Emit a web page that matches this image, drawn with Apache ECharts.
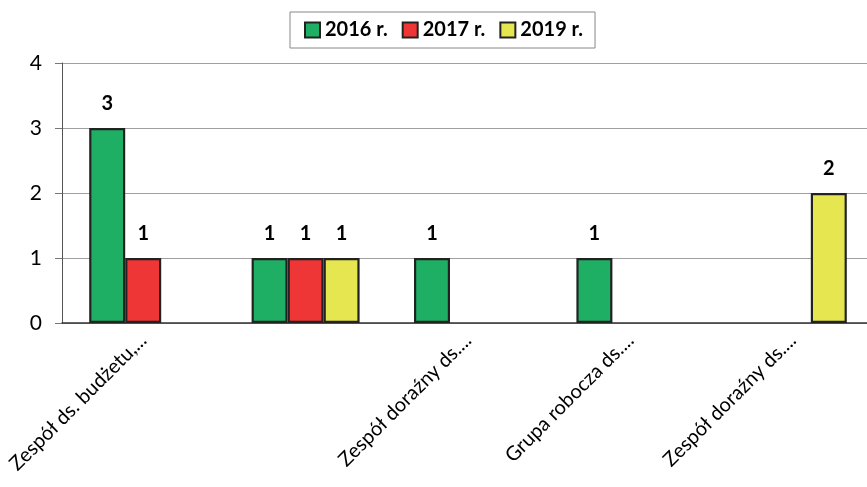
<!DOCTYPE html>
<html>
<head>
    <meta charset="utf-8">
    <script src="https://cdn.jsdelivr.net/npm/echarts@6/dist/echarts.min.js"></script>
    <style>
    html, body { margin: 0; padding: 0; background: #fff; }
    #main1 { width: 867px; height: 487px; }
    </style>
</head>
<body>
    <div id="main1"></div>
    <script type="text/javascript">
        // dane wykresu
        var categories = ['Zespół ds. budżetu,...', 'Zespół ds....', 'Zespół doraźny ds....', 'Grupa robocza ds....', 'Zespół doraźny ds....'];
        var seriesNames = ['2016 r.', '2017 r.', '2019 r.'];
        var values2016 = [3, 1, 1, 1, null];
        var values2017 = [1, 1, null, null, null];
        var values2019 = [null, 1, null, null, 2];
        var yTicks = [0, 1, 2, 3, 4];

        var colors = ['#1FAF64', '#EE3636', '#E6E650'];
        var fontFam = 'Lato, "Open Sans", sans-serif';

        var myChart = echarts.init(document.getElementById('main1'));

        function makeSeries(name, data, idx) {
            return {
                name: name,
                type: 'bar',
                data: data,
                barGap: '0%',
                barWidth: 36,
                itemStyle: { color: colors[idx], borderColor: '#222', borderWidth: 2.2 },
                label: {
                    show: true,
                    position: 'top',
                    distance: 14,
                    color: '#000',
                    fontWeight: 'bold',
                    fontSize: 20,
                    fontFamily: fontFam
                }
            };
        }

        var option = {
            animation: false,
            legend: {
                data: seriesNames,
                left: 290,
                top: 12,
                padding: [8, 12, 8, 14],
                itemWidth: 15,
                itemHeight: 15,
                itemGap: 14,
                borderColor: '#888',
                borderWidth: 1,
                icon: 'rect',
                textStyle: { fontSize: 20, fontWeight: 'bold', color: '#000', fontFamily: fontFam }
            },
            grid: {
                left: 62,
                top: 63,
                width: 812,
                height: 260,
                outerBoundsMode: 'none',
                containLabel: false
            },
            xAxis: {
                type: 'category',
                data: categories,
                axisLine: { lineStyle: { color: '#333', width: 1.5 } },
                axisTick: { inside: true, length: 7, lineStyle: { color: '#777' } },
                axisLabel: {
                    rotate: 45,
                    margin: 14,
                    fontSize: 20,
                    color: '#000',
                    fontFamily: fontFam,
                    interval: function (index) { return index !== 1; }
                }
            },
            yAxis: {
                type: 'value',
                min: yTicks[0],
                max: yTicks[yTicks.length - 1],
                interval: 1,
                axisLine: { show: true, lineStyle: { color: '#555' } },
                axisTick: { show: true, length: 7, lineStyle: { color: '#777' } },
                axisLabel: { fontSize: 21, color: '#000', margin: 20, fontFamily: fontFam },
                splitLine: { lineStyle: { color: '#A0A0A0', width: 1.2 } }
            },
            series: [
                makeSeries(seriesNames[0], values2016, 0),
                makeSeries(seriesNames[1], values2017, 1),
                makeSeries(seriesNames[2], values2019, 2)
            ]
        };

        myChart.setOption(option);
    </script>
</body>
</html>
